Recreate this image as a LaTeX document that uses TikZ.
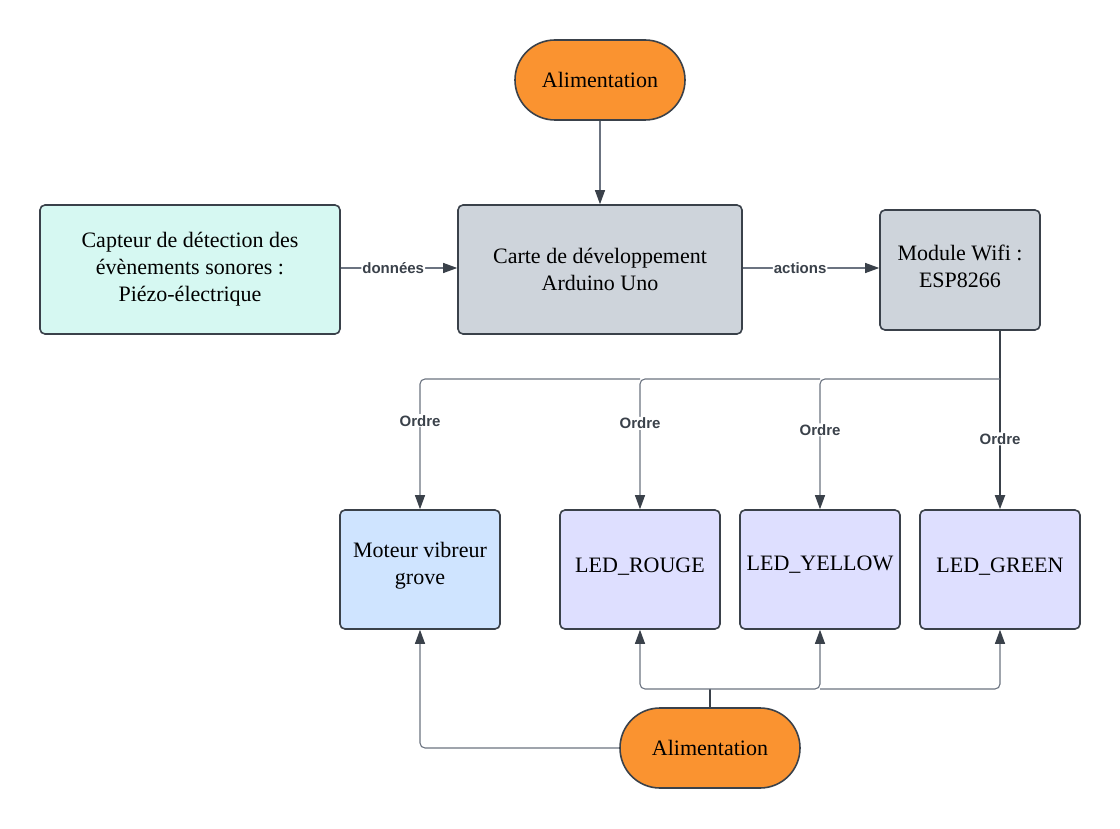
\documentclass[tikz,border=0pt]{standalone}
\usepackage{fontspec}
\setmainfont{Liberation Serif}
\newfontfamily\lblfont{Liberation Sans}
\usetikzlibrary{arrows.meta,shapes.misc}
\definecolor{edgec}{HTML}{3A414A}
\definecolor{linec}{HTML}{6B7380}
\definecolor{orangec}{HTML}{FA9330}
\definecolor{cyanc}{HTML}{D6F8F2}
\definecolor{grayc}{HTML}{CED4DB}
\definecolor{bluec}{HTML}{CFE4FF}
\definecolor{lavc}{HTML}{DEDFFF}
\tikzset{
  box/.style={draw=edgec, line width=1.6pt, rounded corners=5pt, align=center, inner sep=0pt,
    font=\fontsize{22}{27}\selectfont},
  txt/.style={font=\fontsize{22}{27}\selectfont, align=center, inner sep=0pt},
  stad/.style={draw=edgec, line width=1.6pt, rounded rectangle, fill=orangec, align=center, inner sep=0pt,
    font=\fontsize{22}{27}\selectfont},
  conn/.style={draw=linec, line width=1.1pt, rounded corners=5pt, -{Triangle[length=14pt,width=10pt,fill=edgec,color=edgec]}},
  connk/.style={draw=edgec, line width=1.8pt, rounded corners=5pt},
  plain/.style={draw=linec, line width=1.1pt, rounded corners=5pt},
  lbl/.style={fill=white, inner sep=1pt, font=\lblfont\bfseries\fontsize{15}{17}\selectfont, text=edgec},
}
\begin{document}
\begin{tikzpicture}[x=1pt,y=-1pt]
\useasboundingbox (0,0) rectangle (1120,829);
% nodes
\node[stad, minimum width=170pt, minimum height=80pt] (alim1) at (600,80) {Alimentation};
\node[box, fill=cyanc, minimum width=300pt, minimum height=129pt] (capt) at (190,269.5) {Capteur de détection des\\évènements sonores :\\Piézo-électrique};
\node[box, fill=grayc, minimum width=284pt, minimum height=129pt] (carte) at (600,269.5) {Carte de développement\\Arduino Uno};
\node[box, fill=grayc, minimum width=160pt, minimum height=120pt] (wifi) at (960,270) {};
\node[txt] (wifit) at (960,266) {Module Wifi :\\ESP8266};
\node[box, fill=bluec, minimum width=160pt, minimum height=119pt] (mot) at (420,569.5) {};
\node[txt] (mott) at (420,566) {Moteur vibreur\\grove};
\node[box, fill=lavc, minimum width=160pt, minimum height=119pt] (lr) at (640,569.5) {};
\node[txt] (lrt) at (640,567) {LED\_ROUGE};
\node[box, fill=lavc, minimum width=160pt, minimum height=119pt] (ly) at (820,569.5) {};
\node[txt] (lyt) at (820,565) {LED\_YELLOW};
\node[box, fill=lavc, minimum width=160pt, minimum height=119pt] (lg) at (1000,569.5) {};
\node[txt] (lgt) at (1000,567) {LED\_GREEN};
\node[stad, minimum width=180pt, minimum height=80pt] (alim2) at (710,748) {Alimentation};
% top connectors
\draw[conn] (alim1.south) -- (carte.north);
\draw[conn] (capt.east |- 0,268) -- node[lbl, pos=0.45] (ld) {données} (carte.west |- 0,268);
\draw[conn] (carte.east |- 0,268) -- node[lbl, pos=0.42] (la) {actions} (wifi.west |- 0,268);
% wifi to outputs
\coordinate (bus) at (1000,379);
\draw[connk] (wifi.south -| bus) -- (bus);
\draw[conn, line width=1.8pt, draw=edgec] (bus) -- node[lbl, pos=0.46] {Ordre} (lg.north);
\draw[conn] (bus) -- (ly.north |- bus) -- node[lbl, pos=0.39] {Ordre} (ly.north);
\draw[conn] (ly.north |- bus) -- (lr.north |- bus) -- node[lbl, pos=0.34] {Ordre} (lr.north);
\draw[conn] (lr.north |- bus) -- (mot.north |- bus) -- node[lbl, pos=0.32] {Ordre} (mot.north);
% power to outputs
\coordinate (pb) at (710,689);
\draw[plain, line width=1.6pt, draw=edgec] (alim2.north) -- (pb);
\draw[conn] (pb) -- (lr.south |- pb) -- (lr.south);
\draw[conn] (pb) -- (ly.south |- pb) -- (ly.south);
\draw[conn] (ly.south |- pb) -- (lg.south |- pb) -- (lg.south);
\draw[conn] (alim2.west) -- (mot.south |- alim2.west) -- (mot.south);
\end{tikzpicture}
\end{document}
